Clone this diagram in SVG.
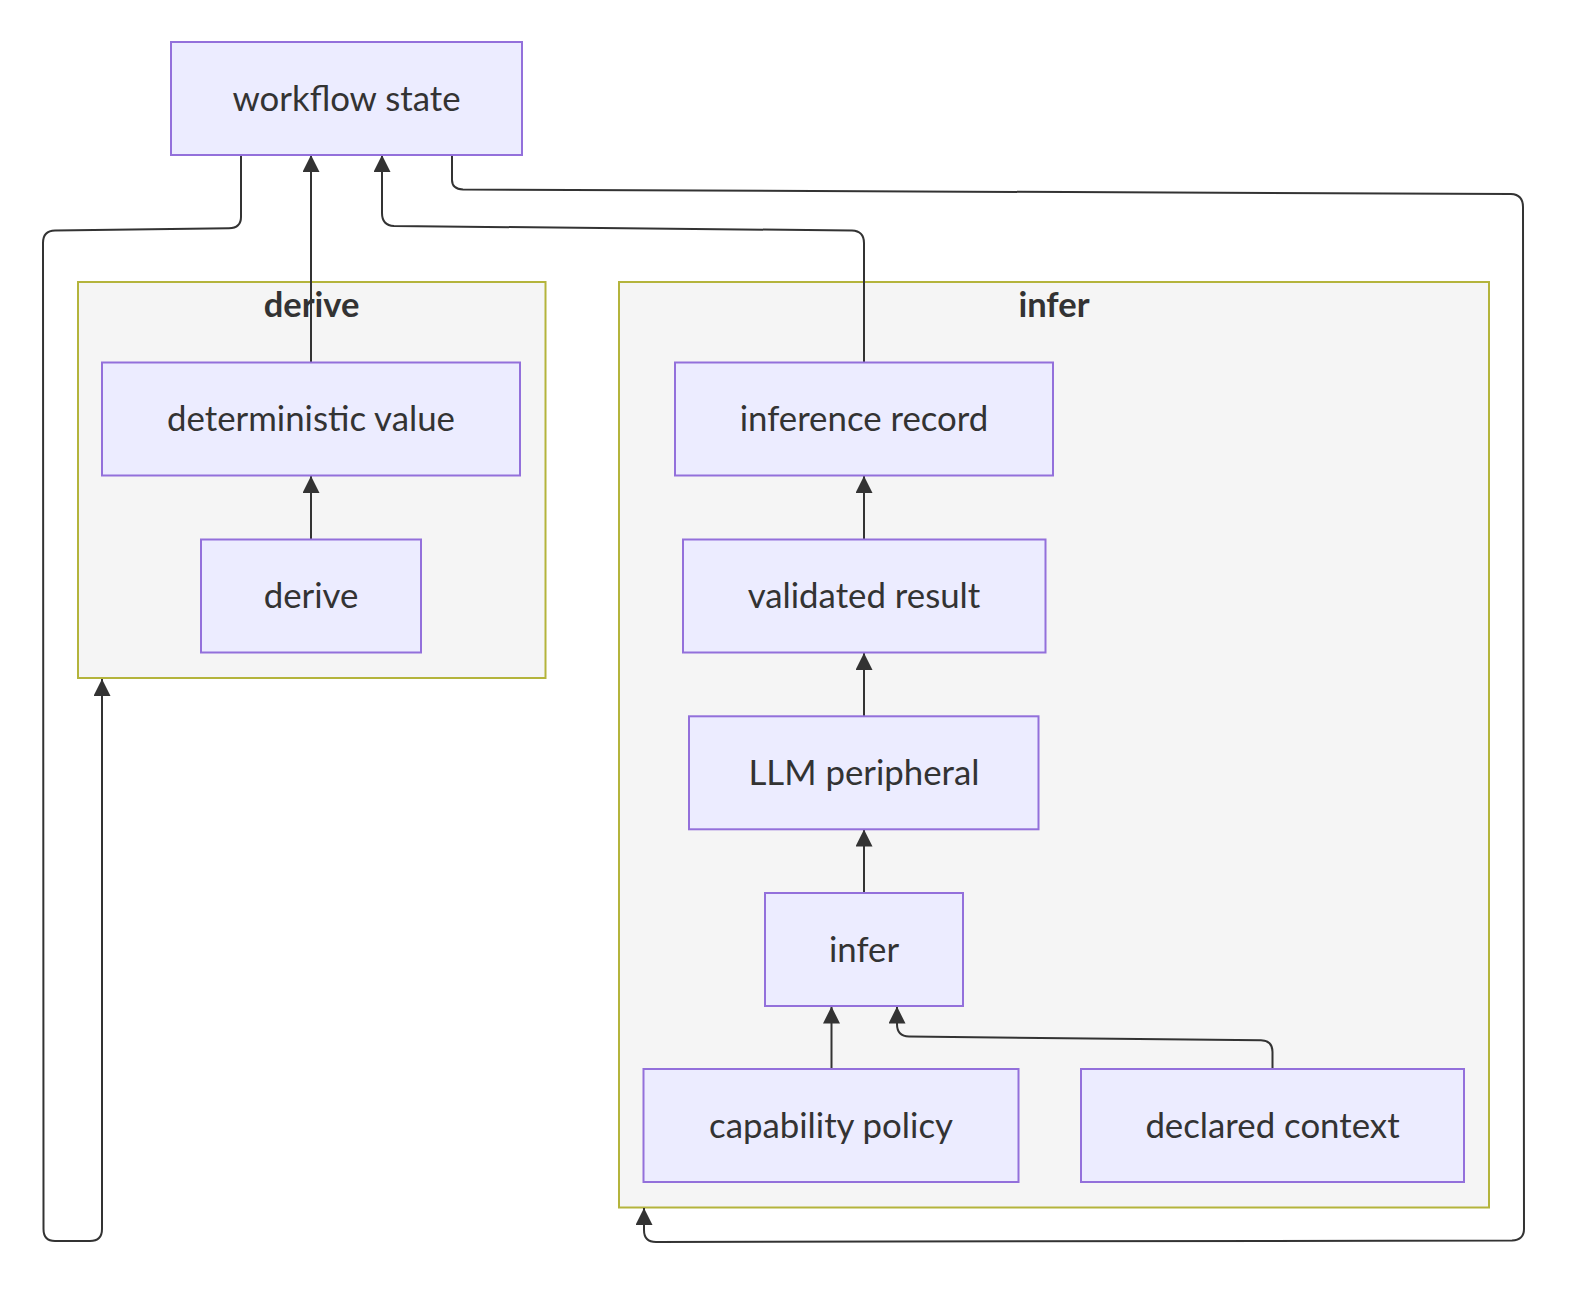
<svg xmlns="http://www.w3.org/2000/svg" width="1584" height="1304" viewBox="0 0 1584 1304">
  <style>
    .cluster rect { fill: #f5f5f5; stroke: #b4b43c; stroke-width: 2; }
    .cluster text { font-family: Lato, "Liberation Sans", sans-serif; font-size: 34.5px; font-weight: bold; fill: #333333; text-anchor: middle; dominant-baseline: central; }
    .node rect { fill: #ececff; stroke: #9370db; stroke-width: 2; }
    .node text { font-family: Lato, "Liberation Sans", sans-serif; font-size: 34.8px; fill: #333333; text-anchor: middle; dominant-baseline: central; }
    .edges path { fill: none; stroke: #333333; stroke-width: 2; marker-end: url(#arrow); }
  </style>
  <defs>
    <marker id="arrow" markerUnits="userSpaceOnUse" markerWidth="18" markerHeight="18" refX="17" refY="8.5" orient="auto">
      <path d="M0,0 L17,8.5 L0,17 z" fill="#333333"/>
    </marker>
  </defs>
  <rect width="1584" height="1304" fill="#ffffff"/>

  <!-- subgraphs -->
  <g id="cluster-derive" class="cluster">
    <rect x="78" y="282" width="467.5" height="396"/>
    <text x="311.5" y="303">derive</text>
  </g>
  <g id="cluster-infer" class="cluster">
    <rect x="619" y="282" width="870" height="925.5"/>
    <text x="1054" y="303">infer</text>
  </g>

  <!-- connectors -->
  <g id="edges" class="edges">
    <path id="e-detval-state" d="M311,362.5 L311,155"/>
    <path id="e-derive-detval" d="M311,539.5 L311,476"/>
    <path id="e-record-state" d="M864,362.5 L864,243 Q864,231 852,230.5 L394,226 Q382,225.5 382,213 L382,155"/>
    <path id="e-state-infer" d="M452,155 L452,180 Q452,189 463,189.5 L1511,194 Q1523,194.5 1523,207 L1524,1229 Q1524,1240 1512,1240.5 L656,1242 Q644,1242 644,1230 L644,1208"/>
    <path id="e-state-derive" d="M241,155 L241,217 Q241,228 229,228.3 L55,230.5 Q43,230.7 43,243 L43.5,1229 Q43.5,1241 55,1241 L90,1241 Q102,1241 102,1229 L102,679"/>
    <path id="e-validated-record" d="M864,539.5 L864,476"/>
    <path id="e-llm-validated" d="M864,716 L864,653"/>
    <path id="e-infer-llm" d="M864,893 L864,829.5"/>
    <path id="e-policy-infer" d="M831.5,1069 L831.5,1006.5"/>
    <path id="e-context-infer" d="M1272.5,1069 L1272.5,1052 Q1272.5,1040.5 1261,1040.3 L909,1036.5 Q897,1036.3 897,1024 L897,1006.5"/>
  </g>

  <!-- nodes -->
  <g id="workflow-state" class="node">
    <rect x="171" y="42" width="351" height="113"/>
    <text x="346.5" y="97">workflow state</text>
  </g>
  <g id="deterministic-value" class="node">
    <rect x="102" y="362.5" width="418" height="113"/>
    <text x="311" y="417.5">deterministic value</text>
  </g>
  <g id="derive" class="node">
    <rect x="201" y="539.5" width="220" height="113"/>
    <text x="311" y="594.5">derive</text>
  </g>
  <g id="inference-record" class="node">
    <rect x="675" y="362.5" width="378" height="113"/>
    <text x="864" y="417.5">inference record</text>
  </g>
  <g id="validated-result" class="node">
    <rect x="683" y="539.5" width="362.5" height="113"/>
    <text x="864" y="594.5">validated result</text>
  </g>
  <g id="llm-peripheral" class="node">
    <rect x="689" y="716.3" width="349.5" height="113"/>
    <text x="864" y="771.3">LLM peripheral</text>
  </g>
  <g id="infer" class="node">
    <rect x="765" y="893" width="198" height="113"/>
    <text x="864" y="948">infer</text>
  </g>
  <g id="capability-policy" class="node">
    <rect x="643.5" y="1069" width="375" height="113"/>
    <text x="831" y="1124">capability policy</text>
  </g>
  <g id="declared-context" class="node">
    <rect x="1081" y="1069" width="383" height="113"/>
    <text x="1272.5" y="1124">declared context</text>
  </g>
</svg>
